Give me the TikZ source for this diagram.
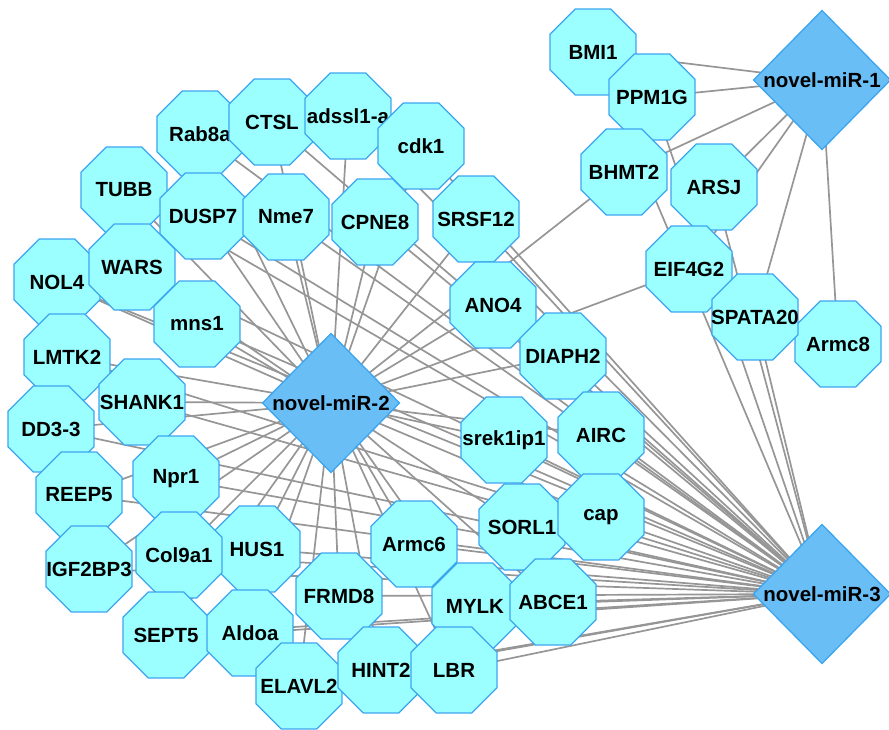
\documentclass[tikz,border=0pt]{standalone}
\usepackage{fontspec}
\setmainfont{Liberation Sans}
\usetikzlibrary{shapes.geometric}
\pgfdeclarelayer{bg}
\pgfsetlayers{bg,main}
\definecolor{octfill}{RGB}{155,255,255}
\definecolor{octdraw}{RGB}{60,165,240}
\definecolor{mirfill}{RGB}{105,190,245}
\definecolor{edgegray}{RGB}{150,150,150}
\newcommand{\zw}[1]{\makebox[0pt][c]{#1}}
\begin{document}
\begin{tikzpicture}[x=1pt,y=-1pt,
  gene/.style={regular polygon, regular polygon sides=8, minimum size=93pt,
    inner sep=0pt, outer sep=0pt, fill=octfill, draw=octdraw, line width=1.3pt,
    font=\fontsize{20.5}{24}\selectfont\bfseries},
  mir/.style={diamond, minimum width=137pt, minimum height=139pt, inner sep=0pt,
    outer sep=0pt, fill=mirfill, draw=octdraw, line width=1.3pt,
    font=\fontsize{20.5}{24}\selectfont\bfseries},
  link/.style={draw=edgegray, line width=1.7pt}]
\useasboundingbox (0,0) rectangle (889,730);

% right cluster
\node[gene] (BMI1) at (593,52) {\zw{BMI1}};
\node[gene] (PPM1G) at (652,97) {\zw{PPM1G}};
\node[gene] (BHMT2) at (624,172) {\zw{BHMT2}};
\node[gene] (ARSJ) at (714,187) {\zw{ARSJ}};
\node[gene] (EIF4G2) at (689,269) {\zw{EIF4G2}};
\node[gene] (Armc8) at (838,344) {\zw{Armc8}};
\node[gene] (SPATA20) at (755,317) {\zw{SPATA20}};

% left ring
\node[gene] (Rab8a) at (200,134) {\zw{Rab8a}};
\node[gene] (CTSL) at (272,122) {\zw{CTSL}};
\node[gene] (adssl1a) at (348,116) {\zw{adssl1-a}};
\node[gene] (cdk1) at (421,146) {\zw{cdk1}};
\node[gene] (TUBB) at (124,190) {\zw{TUBB}};
\node[gene] (DUSP7) at (203,216) {\zw{DUSP7}};
\node[gene] (Nme7) at (286,217) {\zw{Nme7}};
\node[gene] (CPNE8) at (375,222) {\zw{CPNE8}};
\node[gene] (SRSF12) at (476,219) {\zw{SRSF12}};
\node[gene] (NOL4) at (57,282) {\zw{NOL4}};
\node[gene] (WARS) at (132,267) {\zw{WARS}};
\node[gene] (mns1) at (197,324) {\zw{mns1}};
\node[gene] (LMTK2) at (67,357) {\zw{LMTK2}};
\node[gene] (SHANK1) at (142,402) {\zw{SHANK1}};
\node[gene] (DD33) at (51,429) {\zw{DD3-3}};
\node[gene] (REEP5) at (79,495) {\zw{REEP5}};
\node[gene] (Npr1) at (176,479) {\zw{Npr1}};
\node[gene] (IGF2BP3) at (89,569) {\zw{IGF2BP3}};
\node[gene] (HUS1) at (257,549) {\zw{HUS1}};
\node[gene] (Col9a1) at (179,555) {\zw{Col9a1}};
\node[gene] (SEPT5) at (166,635) {\zw{SEPT5}};
\node[gene] (Aldoa) at (250,633) {\zw{Aldoa}};
\node[gene] (Armc6) at (414,544) {\zw{Armc6}};
\node[gene] (FRMD8) at (339,596) {\zw{FRMD8}};
\node[gene] (ELAVL2) at (299,686) {\zw{ELAVL2}};
\node[gene] (HINT2) at (381,670) {\zw{HINT2}};
\node[gene] (MYLK) at (475,606) {\zw{MYLK}};
\node[gene] (LBR) at (454,670) {\zw{LBR}};
\node[gene] (ANO4) at (493,305) {\zw{ANO4}};
\node[gene] (DIAPH2) at (563,356) {\zw{DIAPH2}};
\node[gene] (srek) at (504,440) {\zw{srek1ip1}};
\node[gene] (AIRC) at (601,435) {\zw{AIRC}};
\node[gene] (SORL1) at (522,527) {\zw{SORL1}};
\node[gene] (ABCE1) at (553,602) {\zw{ABCE1}};
\node[gene] (cap) at (601,517) {\zw{cap}};

% microRNAs
\node[mir] (m1) at (822,80) {\zw{novel-miR-1}};
\node[mir] (m2) at (331,403) {\zw{novel-miR-2}};
\node[mir] (m3) at (822,594) {\zw{novel-miR-3}};

\begin{pgfonlayer}{bg}
\foreach \g in {BMI1,PPM1G,BHMT2,ARSJ,EIF4G2,SPATA20,Armc8}
  \draw[link] (m1.center) -- (\g.center);
\foreach \g in {TUBB,Rab8a,CTSL,adssl1a,cdk1,DUSP7,Nme7,CPNE8,SRSF12,NOL4,WARS,mns1,
  LMTK2,SHANK1,DD33,REEP5,Npr1,IGF2BP3,Col9a1,HUS1,SEPT5,Aldoa,FRMD8,ELAVL2,HINT2,
  Armc6,LBR,MYLK,ABCE1,SORL1,cap,AIRC,srek,DIAPH2,ANO4,BHMT2,EIF4G2}
  \draw[link] (m2.center) -- (\g.center);
\foreach \g in {TUBB,Rab8a,CTSL,adssl1a,cdk1,DUSP7,Nme7,CPNE8,SRSF12,NOL4,WARS,mns1,
  LMTK2,SHANK1,DD33,REEP5,Npr1,IGF2BP3,Col9a1,HUS1,SEPT5,Aldoa,FRMD8,ELAVL2,HINT2,
  Armc6,LBR,MYLK,ABCE1,SORL1,cap,AIRC,srek,DIAPH2,ANO4,BMI1,PPM1G,ARSJ,SPATA20}
  \draw[link] (m3.center) -- (\g.center);
\end{pgfonlayer}
\end{tikzpicture}
\end{document}
